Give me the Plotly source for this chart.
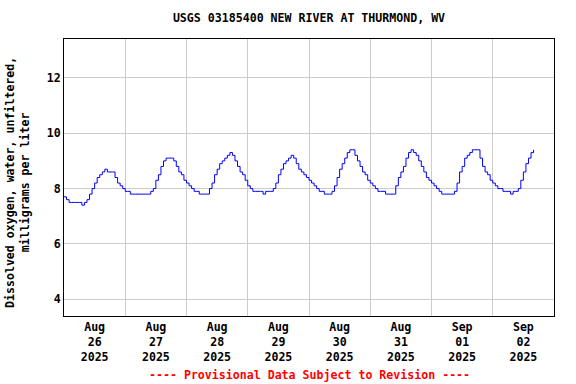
import pandas as pd
import plotly.graph_objects as go

# Hourly dissolved oxygen readings (mg/L)
start = "2025-08-26 00:00"
aug26 = [7.7, 7.6, 7.5, 7.5, 7.5, 7.5, 7.5, 7.4, 7.5, 7.6, 7.8, 8.0,
         8.2, 8.4, 8.5, 8.6, 8.7, 8.6, 8.6, 8.6, 8.4, 8.2, 8.1, 8.0]
aug27 = [7.9, 7.9, 7.8, 7.8, 7.8, 7.8, 7.8, 7.8, 7.8, 7.8, 7.9, 8.0,
         8.3, 8.5, 8.8, 9.0, 9.1, 9.1, 9.1, 9.0, 8.8, 8.6, 8.5, 8.3]
aug28 = [8.2, 8.1, 8.0, 7.9, 7.9, 7.8, 7.8, 7.8, 7.8, 8.0, 8.2, 8.5,
         8.7, 8.9, 9.0, 9.1, 9.2, 9.3, 9.2, 9.0, 8.8, 8.6, 8.5, 8.3]
aug29 = [8.1, 8.0, 7.9, 7.9, 7.9, 7.9, 7.8, 7.9, 7.9, 7.9, 8.0, 8.2,
         8.5, 8.7, 8.9, 9.0, 9.1, 9.2, 9.1, 8.9, 8.7, 8.6, 8.5, 8.4]
aug30 = [8.3, 8.2, 8.1, 8.0, 7.9, 7.9, 7.8, 7.8, 7.8, 7.9, 8.1, 8.4,
         8.7, 8.9, 9.1, 9.3, 9.4, 9.4, 9.2, 9.0, 8.8, 8.6, 8.5, 8.3]
aug31 = [8.2, 8.1, 8.0, 7.9, 7.9, 7.9, 7.8, 7.8, 7.8, 7.8, 8.1, 8.4,
         8.6, 8.8, 9.1, 9.3, 9.4, 9.3, 9.2, 9.0, 8.8, 8.6, 8.4, 8.3]
sep01 = [8.2, 8.1, 8.0, 7.9, 7.8, 7.8, 7.8, 7.8, 7.8, 7.9, 8.2, 8.6,
         8.8, 9.1, 9.2, 9.3, 9.4, 9.4, 9.4, 9.1, 8.8, 8.6, 8.5, 8.3]
sep02 = [8.2, 8.1, 8.0, 8.0, 7.9, 7.9, 7.9, 7.8, 7.9, 7.9, 8.0, 8.3,
         8.6, 8.9, 9.1, 9.3, 9.4]

values = aug26 + aug27 + aug28 + aug29 + aug30 + aug31 + sep01 + sep02
times = pd.date_range(start, periods=len(values), freq="h")

# Axis ticks: labels at noon, grid at midnight
label_days = pd.date_range("2025-08-26 12:00", periods=8, freq="D")
tick_text = ["Aug<br>26<br>2025", "Aug<br>27<br>2025", "Aug<br>28<br>2025",
             "Aug<br>29<br>2025", "Aug<br>30<br>2025", "Aug<br>31<br>2025",
             "Sep<br>01<br>2025", "Sep<br>02<br>2025"]
grid_days = pd.date_range("2025-08-27 00:00", periods=7, freq="D")
y_ticks = [4, 6, 8, 10, 12]

FONT = "DejaVu Sans Mono"

fig = go.Figure()
fig.add_trace(go.Scatter(x=times, y=values, mode="lines",
                         line=dict(color="#0000ff", width=1, shape="hv"),
                         showlegend=False, hoverinfo="skip"))

fig.update_layout(
    width=576, height=384,
    margin=dict(l=64, r=22, t=39, b=68),
    paper_bgcolor="white", plot_bgcolor="white",
    font=dict(family=FONT, size=11.6, color="black"),
    title=dict(text="<b>USGS 03185400 NEW RIVER AT THURMOND, WV</b>",
               x=0.5, xref="paper", xanchor="center",
               y=1 - 18 / 384, yref="container", yanchor="middle",
               font=dict(family=FONT, size=11.6, color="black")),
    xaxis=dict(range=["2025-08-26 00:00", "2025-09-03 00:00"],
               tickmode="array", tickvals=label_days,
               ticktext=["<b>" + t.replace("<br>", "</b><br><b>") + "</b>" for t in tick_text],
               ticks="", showgrid=False, zeroline=False,
               showline=True, mirror=True, linecolor="black", linewidth=1,
               minor=dict(tickmode="array", tickvals=grid_days, showgrid=True,
                          gridcolor="#cccccc", gridwidth=1, ticks=""),
               tickfont=dict(family=FONT, size=11.6, color="black")),
    yaxis=dict(range=[3.4, 13.4], tickmode="array", tickvals=y_ticks,
               ticktext=["<b>%d</b>" % v for v in y_ticks],
               ticks="", showgrid=True, gridcolor="#cccccc", gridwidth=1,
               zeroline=False, showline=True, mirror=True,
               linecolor="black", linewidth=1,
               tickfont=dict(family=FONT, size=11.6, color="black")),
    annotations=[
        dict(text="<b>Dissolved oxygen, water, unfiltered,</b><br><b>milligrams per liter</b>",
             textangle=-90, xref="paper", yref="paper",
             x=(17.5 - 64) / 490, y=(316 - 182.5) / 277,
             xanchor="center", yanchor="middle", showarrow=False,
             font=dict(family=FONT, size=11.6, color="black")),
        dict(text="<b>---- Provisional Data Subject to Revision ----</b>",
             xref="paper", yref="paper", x=0.5, y=-(375 - 316) / 277,
             xanchor="center", yanchor="middle", showarrow=False,
             font=dict(family=FONT, size=11.6, color="red")),
    ],
)

fig.write_html("out.html", config={"displayModeBar": False},
               post_script="document.body.style.margin='0';document.body.style.padding='0';")
